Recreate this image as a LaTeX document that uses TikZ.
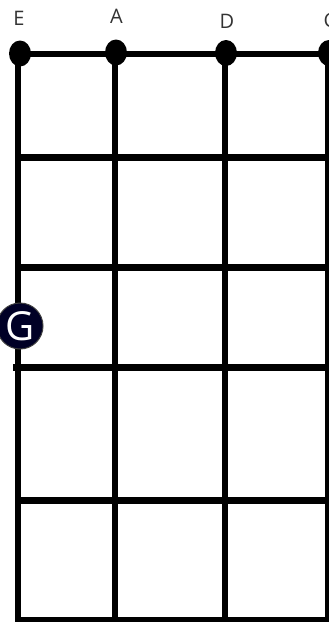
\documentclass[tikz,border=0pt]{standalone}
\usepackage{fontspec}
\usetikzlibrary{shapes.geometric}
\setmainfont{Open Sans}
\begin{document}
\begin{tikzpicture}[x=1pt,y=-1pt,
  stringline/.style={line width=5.5pt},
  fretline/.style={line width=7pt},
  nutline/.style={line width=6.5pt},
  stringdot/.style={fill=black,ellipse,inner sep=0pt,minimum width=22pt,minimum height=26pt},
  notelabel/.style={font=\fontsize{20}{20}\selectfont,text=black!80,inner sep=0pt,anchor=base},
  fingerdot/.style={circle,fill=black!85!blue,draw=black!75,line width=1pt,minimum size=46pt,inner sep=0pt,text=white,font=\fontsize{40}{40}\selectfont}
]
\useasboundingbox (0,0) rectangle (329,622);
\clip (0,0) rectangle (329,622);
% string top/bottom coordinates
\coordinate (e0) at (18,54);  \coordinate (e1) at (18,622);
\coordinate (a0) at (115,54); \coordinate (a1) at (115,622);
\coordinate (d0) at (225,54); \coordinate (d1) at (225,622);
\coordinate (g0) at (328,54); \coordinate (g1) at (328,622);
% fret coordinates
\coordinate (f1l) at (15,157); \coordinate (f1r) at (329,157);
\coordinate (f2l) at (15,267); \coordinate (f2r) at (329,267);
\coordinate (f3l) at (13,367.5); \coordinate (f3r) at (329,367.5);
\coordinate (f4l) at (15,500.5); \coordinate (f4r) at (329,500.5);
\coordinate (f5l) at (15,619.5); \coordinate (f5r) at (329,619.5);
% strings
\draw[stringline] (e0) -- (e1);
\draw[stringline] (a0) -- (a1);
\draw[stringline] (d0) -- (d1);
\draw[stringline] (g0) -- (g1);
% frets
\draw[fretline] (f1l) -- (f1r);
\draw[fretline] (f2l) -- (f2r);
\draw[fretline] (f3l) -- (f3r);
\draw[fretline] (f4l) -- (f4r);
\draw[line width=6pt] (f5l) -- (f5r);
% nut
\draw[nutline] (e0) -- (g0);
% string dots
\node[stringdot] (de) at (20,53.5) {};
\node[stringdot] (da) at (116,52.5) {};
\node[stringdot] (dd) at (226,53) {};
\node[stringdot] (dg) at (329,53) {};
% labels (baseline positions)
\node[notelabel] (le) at (19,25) {E};
\node[notelabel] (la) at (116.5,23) {A};
\node[notelabel] (ld) at (227,28.5) {D};
\node[notelabel] (lg) at (331,27.5) {G};
% finger
\node[fingerdot] (fg) at (20,326) {G};
\end{tikzpicture}
\end{document}
